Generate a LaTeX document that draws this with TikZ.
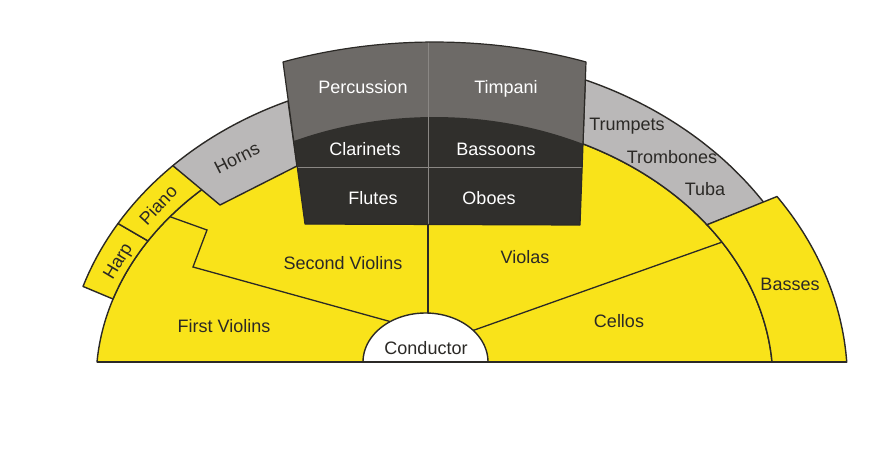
\documentclass[tikz,border=0pt]{standalone}
\usepackage{fontspec}
\setmainfont{Liberation Sans}
\definecolor{yel}{HTML}{F9E31A}
\definecolor{gry}{HTML}{BAB8B8}
\definecolor{perc}{HTML}{6D6A67}
\definecolor{wood}{HTML}{302F2C}
\definecolor{ink}{HTML}{2B2926}
\definecolor{sep}{HTML}{8A8784}
\tikzset{
  region/.style={draw=ink, line width=1.4pt, line join=round},
  divider/.style={draw=ink, line width=1.3pt},
  lbl/.style={text=ink, font=\fontsize{18}{20}\selectfont, inner sep=0pt},
  wlbl/.style={text=white, font=\fontsize{18}{20}\selectfont, inner sep=0pt},
}
\begin{document}
\begin{tikzpicture}[x=1pt,y=-1pt]
\useasboundingbox (0,0) rectangle (883,453);
\fill[white] (0,0) rectangle (883,453);

% points on the inner ellipse (a=338.5, b=265)
\coordinate (bl) at (97,362);
\coordinate (br) at (772,362);
\coordinate (i1) at ({434.5+338.5*cos(161.75)},{382-265*sin(161.75)});
\coordinate (i2) at ({434.5+338.5*cos(147.83)},{382-265*sin(147.83)});
\coordinate (i5) at ({434.5+338.5*cos(114.5)},{382-265*sin(114.5)});
\coordinate (i6) at ({434.5+338.5*cos(64)},{382-265*sin(64)});
\coordinate (i7) at ({434.5+338.5*cos(36.39)},{382-265*sin(36.39)});
\coordinate (z0) at ({434.5+338.5*cos(141.4)},{382-265*sin(141.4)});
\coordinate (vc0) at ({434.5+338.5*cos(31.86)},{382-265*sin(31.86)});
% left outer ellipse (a=370, b=306)
\coordinate (l1) at ({434.5+370*cos(161.8)},{382-306*sin(161.8)});
\coordinate (l2) at ({434.5+370*cos(148.8)},{382-306*sin(148.8)});
\coordinate (l3) at ({434.5+370*cos(135)},{382-306*sin(135)});
\coordinate (l4) at ({434.5+370*cos(113.32)},{382-306*sin(113.32)});
% right outer ellipse (a=394, b=327)
\coordinate (r1) at ({434.5+394*cos(67.5)},{382-327*sin(67.5)});
\coordinate (r2) at ({434.5+394*cos(33.25)},{382-327*sin(33.25)});
% basses ellipse (a=413, b=332)
\coordinate (b1) at ({434.5+413*cos(33.97)},{382-332*sin(33.97)});
\coordinate (b2) at (846.8,362);
% block top ellipse (a=449, b=340)
\coordinate (t1) at ({434.5+449*cos(109.72)},{382-340*sin(109.72)});

% ---- inner strings area
\filldraw[fill=yel, region] (bl) -- plot[domain=175.67:4.33,samples=120] ({434.5+338.5*cos(\x)},{382-265*sin(\x)}) -- cycle;

% dividers
\coordinate (z1) at (207,230);
\coordinate (z2) at (193,267);
\coordinate (cL) at (390,321.5);
\coordinate (cR) at (473,330.5);
\coordinate (vt) at (428,225);
\coordinate (cT) at (428,313);
\draw[divider] (z0) -- (z1) -- (z2) -- (cL);
\draw[divider] (vc0) -- (cR);
\draw[divider] (vt) -- (cT);

% ---- harp
\filldraw[fill=yel, region] (l1) -- (i1)
  -- plot[domain=161.75:147.83,samples=20] ({434.5+338.5*cos(\x)},{382-265*sin(\x)})
  -- (l2)
  -- plot[domain=148.8:161.8,samples=20] ({434.5+370*cos(\x)},{382-306*sin(\x)}) -- cycle;
% ---- piano
\filldraw[fill=yel, region] (l2) -- (i2)
  -- plot[domain=147.83:133.2,samples=20] ({434.5+338.5*cos(\x)},{382-265*sin(\x)})
  -- (l3)
  -- plot[domain=135:148.8,samples=20] ({434.5+370*cos(\x)},{382-306*sin(\x)}) -- cycle;
% ---- horns
\coordinate (hA) at (220,205);
\coordinate (hB) at (297,166);
\filldraw[fill=gry, region] (l3) -- (hA) -- (hB) -- (l4)
  -- plot[domain=113.32:135,samples=30] ({434.5+370*cos(\x)},{382-306*sin(\x)}) -- cycle;

% ---- trumpets / trombones / tuba
\filldraw[fill=gry, region] (r1) -- (i6)
  -- plot[domain=64:36.39,samples=40] ({434.5+338.5*cos(\x)},{382-265*sin(\x)})
  -- (r2)
  -- plot[domain=33.25:67.5,samples=40] ({434.5+394*cos(\x)},{382-327*sin(\x)}) -- cycle;

% ---- basses
\filldraw[fill=yel, region] (i7) -- (b1)
  -- plot[domain=33.97:3.45,samples=40] ({434.5+413*cos(\x)},{382-332*sin(\x)})
  -- (br)
  -- plot[domain=4.33:36.39,samples=40] ({434.5+338.5*cos(\x)},{382-265*sin(\x)}) -- cycle;

% ---- percussion / woodwinds block
\coordinate (kBL) at (305,224);
\coordinate (kBR) at (580,225);
\fill[perc] (t1)
  -- plot[domain=109.72:70.28,samples=40] ({434.5+449*cos(\x)},{382-340*sin(\x)})
  -- (kBR) -- (kBL) -- cycle;
\fill[wood] (i5)
  -- plot[domain=114.5:64,samples=40] ({434.5+338.5*cos(\x)},{382-265*sin(\x)})
  -- (kBR) -- (kBL) -- cycle;
\coordinate (sL) at (297.3,167);
\coordinate (sR) at (582.1,167);
\coordinate (vTop) at (428,42);
\draw[sep, line width=1pt] (sL) -- (sR);
\draw[sep, line width=1pt] (vTop) -- (vt);
\draw[region, line width=1.2pt] (t1)
  -- plot[domain=109.72:70.28,samples=40] ({434.5+449*cos(\x)},{382-340*sin(\x)})
  -- (kBR) -- (kBL) -- cycle;

% ---- conductor
\coordinate (cc) at (363,362);
\filldraw[fill=white, region] (cc) -- plot[domain=180:0,samples=60] ({425.5+62.5*cos(\x)},{362-49*sin(\x)}) -- cycle;

% baseline
\draw[ink, line width=2.2pt] (bl) -- (b2);

% ---- labels
\node[wlbl] (percussion) at (363,87) {Percussion};
\node[wlbl] (timpani) at (506,89) {Timpani};
\node[wlbl] (clarinets) at (365,149) {Clarinets};
\node[wlbl] (bassoons) at (496,149) {Bassoons};
\node[wlbl] (flutes) at (373,198) {Flutes};
\node[wlbl] (oboes) at (489,198) {Oboes};
\node[lbl, rotate=27] (horns) at (237,158) {Horns};
\node[lbl, rotate=47] (piano) at (158,205) {Piano};
\node[lbl, rotate=59] (harp) at (119,262) {Harp};
\node[lbl] (trumpets) at (627,126) {Trumpets};
\node[lbl] (trombones) at (672,157) {Trombones};
\node[lbl] (tuba) at (705,189) {Tuba};
\node[lbl] (basses) at (790,284) {Basses};
\node[lbl] (second) at (343,263) {Second Violins};
\node[lbl] (violas) at (525,257) {Violas};
\node[lbl] (first) at (224,326) {First Violins};
\node[lbl] (cellos) at (619,321) {Cellos};
\node[lbl] (conductor) at (426,348) {Conductor};
\end{tikzpicture}
\end{document}
